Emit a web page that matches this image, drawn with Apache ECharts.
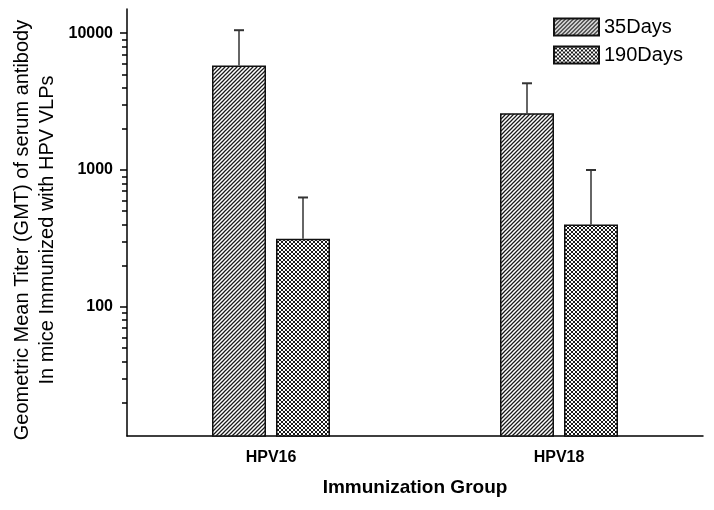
<!DOCTYPE html>
<html>
<head>
<meta charset="utf-8">
<script src="https://cdn.jsdelivr.net/npm/echarts@6/dist/echarts.min.js"></script>
<style>html,body{margin:0;padding:0;background:#fff;}#c{width:714px;height:510px;}</style>
</head>
<body>
<div id="c"></div>
<script>
const categories = ['HPV16', 'HPV18'];
const seriesNames = ['35Days', '190Days'];
const days35 = [5800, 2600];
const days35Upper = [10500, 4300];
const days190 = [315, 400];
const days190Upper = [630, 1000];
const yMajorTicks = [100, 1000, 10000];
const yMinorTicks = [20, 30, 40, 50, 60, 70, 80, 90, 200, 300, 400, 500, 600, 700, 800, 900, 2000, 3000, 4000, 5000, 6000, 7000, 8000, 9000];
const yMin = 11.4, yMax = 15000;

const FONT = '"Liberation Sans", Arial, sans-serif';
const BAR_W = 54, BAR_GAP = 10;

function makePattern(cross) {
  const c = document.createElement('canvas');
  c.width = 4; c.height = 4;
  const g = c.getContext('2d');
  g.fillStyle = '#fff'; g.fillRect(0, 0, 4, 4);
  g.strokeStyle = '#1a1a1a'; g.lineWidth = cross ? 1.0 : 1.25;
  g.beginPath();
  g.moveTo(-1, 5); g.lineTo(5, -1);
  g.moveTo(-1, 1); g.lineTo(1, -1);
  g.moveTo(3, 5); g.lineTo(5, 3);
  if (cross) {
    g.moveTo(-1, -1); g.lineTo(5, 5);
    g.moveTo(3, -1); g.lineTo(5, 1);
    g.moveTo(-1, 3); g.lineTo(1, 5);
  }
  g.stroke();
  return { image: c, repeat: 'repeat' };
}

function errSeries(values, uppers, offset) {
  return {
    type: 'custom',
    z: 5,
    encode: { x: 0, y: [1, 2] },
    data: categories.map((c, i) => [i, values[i], uppers[i]]),
    renderItem: function (params, api) {
      const base = api.coord([api.value(0), api.value(1)]);
      const top = api.coord([api.value(0), api.value(2)]);
      const cx = base[0] + offset;
      return {
        type: 'group',
        children: [
          { type: 'line', shape: { x1: cx, y1: base[1], x2: cx, y2: top[1] }, style: { stroke: '#333', lineWidth: 1.5 } },
          { type: 'line', shape: { x1: cx - 5, y1: top[1], x2: cx + 5, y2: top[1] }, style: { stroke: '#333', lineWidth: 2 } }
        ]
      };
    }
  };
}

const chart = echarts.init(document.getElementById('c'));
const off = (BAR_W + BAR_GAP) / 2;
chart.setOption({
  backgroundColor: '#fff',
  animation: false,
  textStyle: { fontFamily: FONT },
  grid: { left: 127, right: 11, top: 9, bottom: 74 },
  legend: {
    orient: 'vertical', left: 548, top: 12, icon: 'rect',
    itemWidth: 45, itemHeight: 17, itemGap: 8,
    textStyle: { fontSize: 20, color: '#000', fontFamily: FONT },
    data: seriesNames
  },
  xAxis: [{
    type: 'category', data: categories, boundaryGap: true,
    name: 'Immunization Group', nameLocation: 'middle', nameGap: 42,
    nameTextStyle: { fontSize: 19, fontWeight: 'bold', color: '#000', fontFamily: FONT },
    axisLine: { lineStyle: { color: '#000', width: 1.5 } },
    axisTick: { alignWithLabel: true, length: 8, lineStyle: { color: '#000', width: 1.5 } },
    axisLabel: { fontSize: 16, fontWeight: 'bold', color: '#000', margin: 14, fontFamily: FONT },
    splitLine: { show: false }
  }, {
    type: 'category', data: categories, boundaryGap: true, position: 'bottom',
    axisLine: { show: false },
    axisTick: { alignWithLabel: false, length: 5, lineStyle: { color: '#000', width: 1.5 } },
    axisLabel: { show: false },
    splitLine: { show: false }
  }],
  yAxis: [{
    type: 'log', min: yMin, max: yMax, logBase: 10,
    axisLine: { show: true, lineStyle: { color: '#000', width: 1.5 } },
    axisTick: { show: true, customValues: yMajorTicks, length: 7, lineStyle: { color: '#000', width: 1.5 } },
    axisLabel: {
      customValues: yMajorTicks, fontSize: 16, fontWeight: 'bold', color: '#000', margin: 14, fontFamily: FONT,
      formatter: function (v) { return String(Math.round(v)); }
    },
    splitLine: { show: false }
  }, {
    type: 'log', min: yMin, max: yMax, logBase: 10, position: 'left',
    axisLine: { show: false },
    axisTick: { show: true, customValues: yMinorTicks, length: 5, lineStyle: { color: '#000', width: 1.5 } },
    axisLabel: { show: false },
    splitLine: { show: false }
  }],
  graphic: [{
    type: 'text', x: 35, y: 230, rotation: Math.PI / 2,
    style: {
      text: 'Geometric Mean Titer (GMT) of serum antibody\nIn mice Immunized with HPV VLPs',
      fontSize: 20, fontFamily: FONT, fill: '#000',
      align: 'center', verticalAlign: 'middle', lineHeight: 25
    }
  }],
  series: [{
    name: seriesNames[0], type: 'bar', data: days35, barWidth: BAR_W, barGap: (BAR_GAP / BAR_W * 100) + '%',
    itemStyle: { color: makePattern(false), borderColor: '#111', borderWidth: 1.5 }
  }, {
    name: seriesNames[1], type: 'bar', data: days190, barWidth: BAR_W,
    itemStyle: { color: makePattern(true), borderColor: '#111', borderWidth: 1.5 }
  },
  errSeries(days35, days35Upper, -off),
  errSeries(days190, days190Upper, off)
  ]
});
</script>
</body>
</html>
